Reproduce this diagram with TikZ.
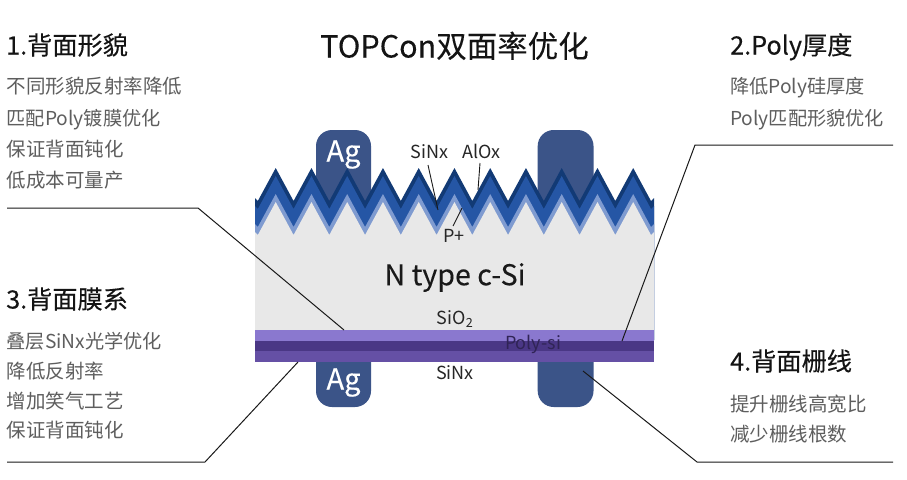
\documentclass[tikz,border=0pt]{standalone}
\usepackage{fontspec}
\setmainfont{Noto Sans CJK SC}
\newfontfamily\medfont[FakeBold=0.25]{Noto Sans CJK SC}
\newfontfamily\semifont[FakeBold=0.12]{Noto Sans CJK SC}
\definecolor{navy}{HTML}{123A75}
\definecolor{midblue}{HTML}{2556A5}
\definecolor{lightblue}{HTML}{7F9BD0}
\definecolor{siGray}{HTML}{E8E8E8}
\definecolor{purpleA}{HTML}{8A78CF}
\definecolor{purpleB}{HTML}{4A3785}
\definecolor{purpleC}{HTML}{6550A5}
\definecolor{agBlue}{HTML}{3B5488}
\definecolor{bodyGray}{HTML}{5E5E5E}
\definecolor{headDark}{HTML}{141414}
\tikzset{
  head/.style={anchor=west,inner sep=0pt,text height=20pt,text depth=5pt,text=headDark,font=\medfont\fontsize{25.2}{30}\selectfont},
  bodytext/.style={anchor=west,inner sep=0pt,text height=15pt,text depth=4pt,text=bodyGray,font=\fontsize{19.5}{23}\selectfont},
  mixtext/.style={bodytext,font=\fontsize{19.2}{23}\selectfont},
  small/.style={inner sep=0pt,text height=14pt,text depth=4pt,text=black!85,font=\fontsize{18}{21}\selectfont},
  aglabel/.style={inner sep=0pt,text=white,font=\semifont\fontsize{29}{34}\selectfont},
  lead/.style={draw=black!90,line width=1pt},
  thinlead/.style={draw=black!90,line width=0.9pt},
  agbar/.style={fill=agBlue,rounded corners=16pt}
}
\newcommand{\zigfill}[2]{%
  \fill[#1] (255,198+#2)
    \foreach \i in {0,...,10} {
      -- ({257.8+35.75*\i},201+#2) -- ({275.7+35.75*\i},168+#2)
    }
    -- (651,201+#2) -- (654,198+#2) -- (654,340) -- (255,340) -- cycle;
}
\begin{document}
\begin{tikzpicture}[x=1pt,y=-1pt]
\useasboundingbox (0,0) rectangle (907,479);
\fill[white] (0,0) rectangle (907,479);
% silver / back contacts
\fill[agbar] (316,130) rectangle (371,407);
\fill[agbar] (537.7,130) rectangle (593.5,407);
% front stack
\zigfill{navy}{0}
\zigfill{midblue}{8}
\zigfill{lightblue}{26}
\zigfill{siGray}{34}
% back stack
\fill[purpleA] (255,329.5) rectangle (654,341);
\fill[purpleB] (255,340.5) rectangle (654,351);
\fill[purpleC] (255,351) rectangle (654,362);
% texts
\node[inner sep=0pt,text height=24pt,text depth=6pt,text=headDark,font=\semifont\fontsize{30.5}{36}\selectfont] (title) at (454.5,48.5) {TOPCon双面率优化};
\node[head] (h1) at (6,47) {1.背面形貌};
\node[bodytext] (b1a) at (6.5,88) {不同形貌反射率降低};
\node[mixtext] (b1b) at (6.5,119.5) {匹配Poly镀膜优化};
\node[bodytext] (b1c) at (6.5,151) {保证背面钝化};
\node[bodytext] (b1d) at (6.5,182) {低成本可量产};
\node[head] (h2) at (730,47) {2.Poly厚度};
\node[mixtext] (b2a) at (730,88) {降低Poly硅厚度};
\node[mixtext] (b2b) at (730,119.5) {Poly匹配形貌优化};
\node[head] (h3) at (6,301) {3.背面膜系};
\node[mixtext] (b3a) at (6.5,343) {叠层SiNx光学优化};
\node[bodytext] (b3b) at (6.5,373) {降低反射率};
\node[bodytext] (b3c) at (6.5,403) {增加笑气工艺};
\node[bodytext] (b3d) at (6.5,432) {保证背面钝化};
\node[head] (h4) at (730,363) {4.背面栅线};
\node[bodytext] (b4a) at (730,406) {提升栅线高宽比};
\node[bodytext] (b4b) at (730,436) {减少栅线根数};
\node[aglabel] (ag1) at (343.5,154.5) {Ag};
\node[aglabel] (ag2) at (343.5,382.5) {Ag};
\node[inner sep=0pt,text=black!90,font=\semifont\fontsize{28.6}{34}\selectfont] (nsi) at (455,277.5) {N type c-Si};
\node[small] (sinxt) at (429.5,153) {SiNx};
\node[small] (alox) at (481.5,153) {AlOx};
\node[small] (pplus) at (454,237) {P+};
\node[small] (sio) at (455,319) {SiO\textsubscript{2}};
\node[small,text=purpleB!65!black] (poly) at (533,344) {Poly-si};
\node[small] (sinxb) at (455,374) {SiNx};
% leaders
\coordinate (l1s) at (7,208); \coordinate (l1m) at (198,208); \coordinate (l1e) at (344,330);
\coordinate (l2s) at (893,145); \coordinate (l2m) at (695,145); \coordinate (l2e) at (622,341);
\coordinate (l3s) at (7,462); \coordinate (l3m) at (205,462); \coordinate (l3e) at (298,362);
\coordinate (l4s) at (893,462); \coordinate (l4m) at (697,462); \coordinate (l4e) at (583,371);
\draw[lead] (l1s) -- (l1m) -- (l1e);
\draw[lead] (l2s) -- (l2m) -- (l2e);
\draw[lead] (l3s) -- (l3m) -- (l3e);
\draw[lead] (l4s) -- (l4m) -- (l4e);
\coordinate (p1) at (438,210); \coordinate (p1s) at (428,165);
\coordinate (p2) at (478,190); \coordinate (p2s) at (480,163);
\coordinate (p3) at (462,208); \coordinate (p3s) at (453,226);
\draw[thinlead] (p1s) -- (p1);
\draw[thinlead] (p2s) -- (p2);
\draw[thinlead] (p3s) -- (p3);
\end{tikzpicture}
\end{document}
